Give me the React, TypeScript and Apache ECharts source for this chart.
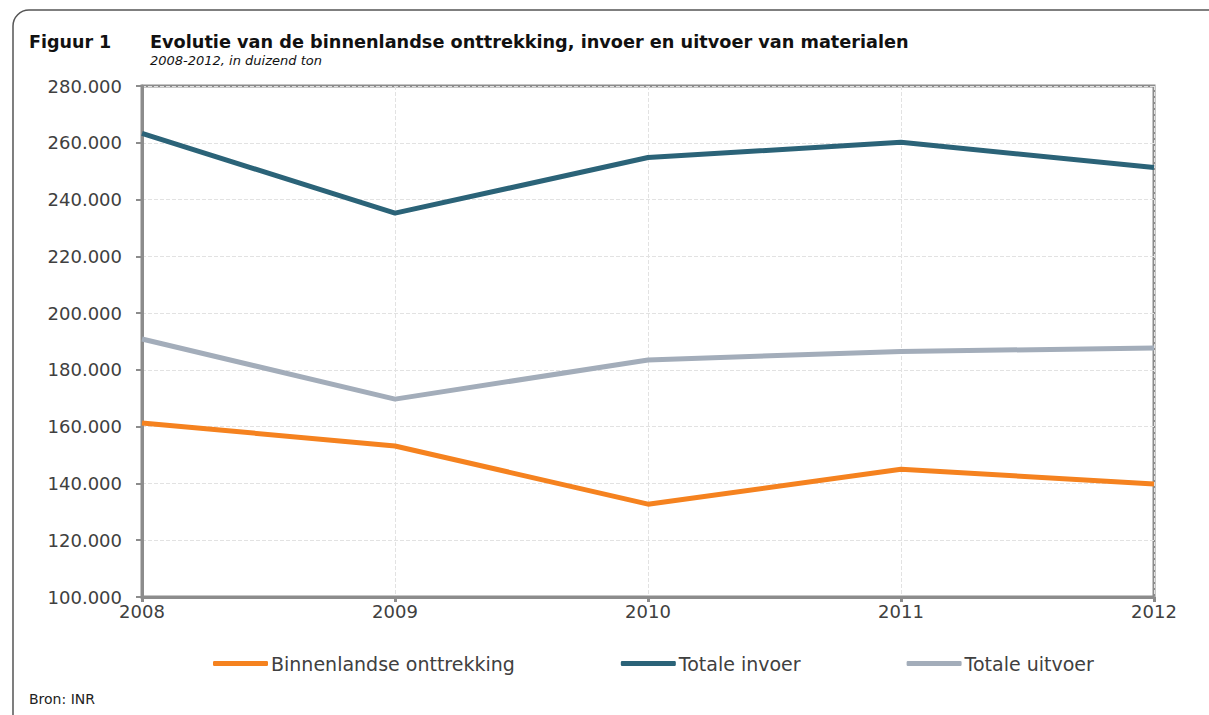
import React, { useEffect, useRef } from "react";
import * as echarts from "echarts";

const years = ["2008", "2009", "2010", "2011", "2012"];
const binnenlandse = [161300, 153200, 132700, 145000, 139800];
const invoer = [263300, 235200, 254800, 260200, 251300];
const uitvoer = [190900, 169700, 183500, 186500, 187700];

const FONT = "'DejaVu Sans', Verdana, sans-serif";

export default function App() {
  const ref = useRef<HTMLDivElement>(null);
  useEffect(() => {
    if (!ref.current) return;
    const chart = echarts.init(ref.current, null, { renderer: "svg" });
    const fmt = (v: number) => {
      const s = String(Math.round(v));
      return s.replace(/\B(?=(\d{3})+(?!\d))/g, ".");
    };
    chart.setOption({
      animation: false,
      backgroundColor: "#ffffff",
      textStyle: { fontFamily: FONT },
      graphic: [
        {
          type: "rect",
          shape: { x: 13, y: 10, width: 1210, height: 720, r: 16 },
          style: { fill: "none", stroke: "#555555", lineWidth: 1.5 },
          silent: true,
        },
        {
          type: "text",
          left: 29,
          top: 33,
          style: { text: "Figuur 1", font: `bold 17.5px ${FONT}`, fill: "#111111" },
        },
        {
          type: "text",
          left: 150,
          top: 33,
          style: {
            text: "Evolutie van de binnenlandse onttrekking, invoer en uitvoer van materialen",
            font: `bold 17.7px ${FONT}`,
            fill: "#111111",
          },
        },
        {
          type: "text",
          left: 150,
          top: 54,
          style: { text: "2008-2012, in duizend ton", font: `italic 13px ${FONT}`, fill: "#111111" },
        },
        {
          type: "text",
          left: 29,
          top: 692,
          style: { text: "Bron: INR", font: `14px ${FONT}`, fill: "#222222" },
        },
      ],
      grid: {
        left: 142,
        right: 55,
        top: 86,
        bottom: 118,
        show: true,
        borderColor: "#8c8c8c",
        borderWidth: 3,
        containLabel: false,
      },
      legend: {
        bottom: 37,
        left: 208,
        itemWidth: 55,
        itemHeight: 5,
        itemGap: 106,
        icon: "roundRect",
        textStyle: { fontSize: 19, color: "#404040", fontFamily: FONT, padding: [0, 0, 0, -2] },
        data: ["Binnenlandse onttrekking", "Totale invoer", "Totale uitvoer"],
      },
      xAxis: {
        type: "category",
        data: years,
        boundaryGap: false,
        axisLine: { lineStyle: { color: "#8c8c8c", width: 3 } },
        axisTick: { show: true, length: 5, lineStyle: { color: "#8c8c8c", width: 3 } },
        axisLabel: { color: "#404040", fontSize: 18, margin: 5, fontFamily: FONT },
        splitLine: { show: true, lineStyle: { color: "#e2e2e2", type: "dashed", width: 1 } },
      },
      yAxis: {
        type: "value",
        min: 100000,
        max: 280000,
        interval: 20000,
        axisLine: { show: true, lineStyle: { color: "#8c8c8c", width: 3 } },
        axisTick: { show: true, length: 6, lineStyle: { color: "#8c8c8c", width: 2 } },
        axisLabel: { color: "#404040", fontSize: 18, margin: 20, formatter: fmt, fontFamily: FONT },
        splitLine: { show: true, lineStyle: { color: "#e2e2e2", type: "dashed", width: 1 } },
      },
      series: [
        {
          name: "Binnenlandse onttrekking",
          type: "line",
          data: binnenlandse,
          symbol: "none",
          lineStyle: { color: "#f5821f", width: 5 },
          itemStyle: { color: "#f5821f" },
        },
        {
          name: "Totale invoer",
          type: "line",
          data: invoer,
          symbol: "none",
          lineStyle: { color: "#2b6378", width: 5 },
          itemStyle: { color: "#2b6378" },
        },
        {
          name: "Totale uitvoer",
          type: "line",
          data: uitvoer,
          symbol: "none",
          lineStyle: { color: "#a3adba", width: 5 },
          itemStyle: { color: "#a3adba" },
        },
      ],
    });
    return () => chart.dispose();
  }, []);
  return <div ref={ref} style={{ width: 1209, height: 715, position: "absolute", left: 0, top: 0 }} />;
}
